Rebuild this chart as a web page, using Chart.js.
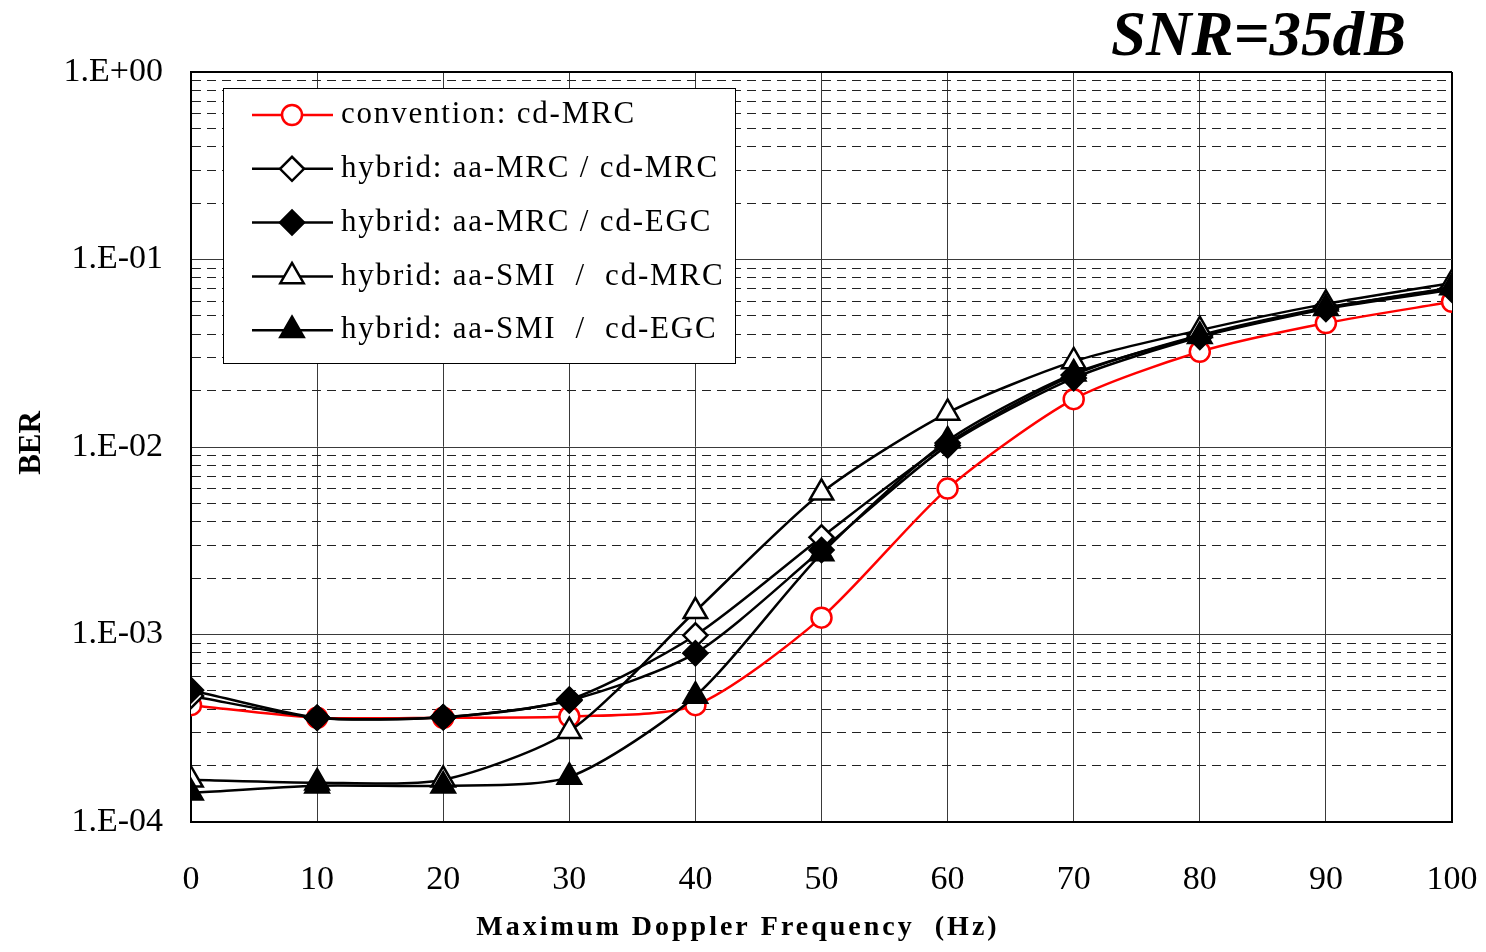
<!DOCTYPE html>
<html>
<head>
<meta charset="utf-8">
<script src="https://cdn.jsdelivr.net/npm/chart.js@4.4.1/dist/chart.umd.min.js"></script>
<style>
  html, body { margin: 0; padding: 0; background: #ffffff; }
  #wrap { width: 1486px; height: 952px; position: relative; }
</style>
</head>
<body>
<div id="wrap"><canvas id="c" width="1486" height="952"></canvas></div>
<script>
// ---------- data ----------
const dopplerHz = [0, 10, 20, 30, 40, 50, 60, 70, 80, 90, 100];
const xTickLabels = ['0', '10', '20', '30', '40', '50', '60', '70', '80', '90', '100'];

const seriesNames = [
  'convention: cd-MRC',
  'hybrid: aa-MRC / cd-MRC',
  'hybrid: aa-MRC / cd-EGC',
  'hybrid: aa-SMI  /  cd-MRC',
  'hybrid: aa-SMI  /  cd-EGC'
];

const berConvCdMRC     = [4.2e-4, 3.6e-4, 3.6e-4, 3.65e-4, 4.2e-4, 1.23e-3, 6.0e-3, 1.8e-2, 3.22e-2, 4.58e-2, 5.95e-2];
const berAaMRC_CdMRC   = [4.7e-4, 3.6e-4, 3.62e-4, 4.5e-4, 9.9e-4, 3.3e-3, 1.05e-2, 2.42e-2, 3.95e-2, 5.55e-2, 7.0e-2];
const berAaMRC_CdEGC   = [5.05e-4, 3.6e-4, 3.62e-4, 4.45e-4, 7.95e-4, 2.82e-3, 1.02e-2, 2.33e-2, 3.86e-2, 5.45e-2, 6.9e-2];
const berAaSMI_CdMRC   = [1.68e-4, 1.62e-4, 1.68e-4, 3.05e-4, 1.33e-3, 5.7e-3, 1.52e-2, 2.86e-2, 4.2e-2, 5.8e-2, 7.5e-2];
const berAaSMI_CdEGC   = [1.43e-4, 1.56e-4, 1.56e-4, 1.74e-4, 4.7e-4, 2.7e-3, 1.08e-2, 2.46e-2, 3.9e-2, 5.5e-2, 7.1e-2];

const yDecades = [1e-4, 1e-3, 1e-2, 1e-1, 1];
const yTickLabels = ['1.E-04', '1.E-03', '1.E-02', '1.E-01', '1.E+00'];

const chartTitle = 'SNR=35dB';
const xAxisTitle = 'Maximum Doppler Frequency  (Hz)';
const yAxisTitle = 'BER';

// ---------- helpers ----------
const SERIF = '"Liberation Serif", "Times New Roman", serif';
const toPoints = (ys) => dopplerHz.map((x, i) => ({ x: x, y: ys[i] }));
const isDecade = (v) => yDecades.some(d => Math.abs(v - d) / d < 1e-6);

const yGridValues = [];
for (let i = 0; i < yDecades.length - 1; i++) {
  for (let m = 1; m <= 9; m++) yGridValues.push(m * yDecades[i]);
}
yGridValues.push(yDecades[yDecades.length - 1]);

const seriesValues = [berConvCdMRC, berAaMRC_CdMRC, berAaMRC_CdEGC, berAaSMI_CdMRC, berAaSMI_CdEGC];
const styles = [
  { color: '#ff0000', style: 'circle',   fill: '#ffffff', r: 10 },
  { color: '#000000', style: 'rectRot',  fill: '#ffffff', r: 12 },
  { color: '#000000', style: 'rectRot',  fill: '#000000', r: 12 },
  { color: '#000000', style: 'triangle', fill: '#ffffff', r: 13.5 },
  { color: '#000000', style: 'triangle', fill: '#000000', r: 13.5 }
];

const datasets = seriesValues.map((vals, i) => ({
  label: seriesNames[i],
  data: toPoints(vals),
  borderColor: styles[i].color,
  backgroundColor: styles[i].fill,
  borderWidth: 2.5,
  pointStyle: styles[i].style,
  pointRadius: styles[i].r,
  pointBorderWidth: 2.5,
  pointBorderColor: styles[i].color,
  pointBackgroundColor: styles[i].fill,
  tension: 0.25,
  fill: false,
  order: seriesValues.length - 1 - i
}));

// ---------- extras plugin (title, axis titles, legend) ----------
const extras = {
  id: 'extras',
  afterDraw(chart) {
    const ctx = chart.ctx;
    const area = chart.chartArea;

    // Title
    ctx.save();
    ctx.fillStyle = '#000';
    ctx.font = 'italic bold 63px ' + SERIF;
    ctx.textAlign = 'right';
    ctx.textBaseline = 'alphabetic';
    ctx.fillText(chartTitle, 1406, 55);
    ctx.restore();

    // X axis title
    ctx.save();
    ctx.fillStyle = '#000';
    ctx.font = 'bold 28px ' + SERIF;
    try { ctx.letterSpacing = '3px'; } catch (e) {}
    ctx.textAlign = 'center';
    ctx.textBaseline = 'alphabetic';
    ctx.fillText(xAxisTitle, 738, 935);
    ctx.restore();

    // Y axis title
    ctx.save();
    ctx.fillStyle = '#000';
    ctx.font = 'bold 31px ' + SERIF;
    ctx.translate(40, 443);
    ctx.rotate(-Math.PI / 2);
    ctx.textAlign = 'center';
    ctx.textBaseline = 'alphabetic';
    ctx.fillText(yAxisTitle, 0, 0);
    ctx.restore();

    // Legend
    const lx = area.left + 32, ly = area.top + 16, lw = 512, lh = 275;
    ctx.save();
    ctx.fillStyle = '#ffffff';
    ctx.fillRect(lx, ly, lw, lh);
    ctx.strokeStyle = '#000';
    ctx.lineWidth = 1;
    ctx.strokeRect(lx + 0.5, ly + 0.5, lw, lh);
    const rowGap = 53.8;
    chart.data.datasets.forEach((ds, i) => {
      const y = ly + 27 + i * rowGap;
      ctx.strokeStyle = ds.borderColor;
      ctx.lineWidth = 2.5;
      ctx.setLineDash([]);
      ctx.beginPath();
      ctx.moveTo(lx + 29, y);
      ctx.lineTo(lx + 110, y);
      ctx.stroke();
      ctx.fillStyle = ds.pointBackgroundColor;
      ctx.strokeStyle = ds.pointBorderColor;
      ctx.lineWidth = ds.pointBorderWidth;
      Chart.helpers.drawPoint(ctx, {
        pointStyle: ds.pointStyle,
        radius: ds.pointRadius,
        rotation: 0,
        borderWidth: ds.pointBorderWidth
      }, lx + 69, y);
      ctx.save();
      ctx.fillStyle = '#000';
      ctx.font = '31px ' + SERIF;
      try { ctx.letterSpacing = '1.8px'; } catch (e) {}
      ctx.textAlign = 'left';
      ctx.textBaseline = 'middle';
      ctx.fillText(ds.label, lx + 118, y);
      ctx.restore();
    });
    ctx.restore();
  }
};

// ---------- chart ----------
new Chart(document.getElementById('c'), {
  type: 'line',
  data: { datasets: datasets },
  plugins: [extras],
  options: {
    responsive: false,
    animation: false,
    devicePixelRatio: 1,
    layout: { padding: { left: 0, top: 72, right: 34, bottom: 0 } },
    plugins: {
      legend: { display: false },
      title: { display: false },
      tooltip: { enabled: false }
    },
    scales: {
      x: {
        type: 'linear',
        min: 0,
        max: 100,
        afterFit: (scale) => { scale.height = 130; scale.paddingLeft = 0; scale.paddingRight = 0; },
        ticks: {
          stepSize: 10,
          autoSkip: false,
          maxRotation: 0,
          padding: 38,
          color: '#000',
          font: { family: SERIF, size: 34 },
          callback: (value, index) => xTickLabels[index]
        },
        grid: {
          drawTicks: false,
          color: (c) => (c.tick && c.tick.value === 100) ? '#000' : '#3a3a3a',
          lineWidth: (c) => (c.tick && c.tick.value === 100) ? 2 : 1
        },
        border: { display: true, color: '#000', width: 2 }
      },
      y: {
        type: 'logarithmic',
        min: 1e-4,
        max: 1,
        afterFit: (scale) => { scale.width = 191; scale.paddingTop = 0; scale.paddingBottom = 0; },
        afterBuildTicks: (scale) => { scale.ticks = yGridValues.map(v => ({ value: v })); },
        ticks: {
          autoSkip: false,
          padding: 28,
          color: '#000',
          font: { family: SERIF, size: 34 },
          callback: (value) => {
            const idx = yDecades.findIndex(d => Math.abs(value - d) / d < 1e-6);
            return idx >= 0 ? yTickLabels[idx] : '';
          }
        },
        grid: {
          drawTicks: false,
          color: (c) => {
            if (!c.tick) return '#000';
            if (c.tick.value === 1) return '#000';
            return isDecade(c.tick.value) ? '#3a3a3a' : '#222';
          },
          lineWidth: (c) => (c.tick && c.tick.value === 1) ? 2 : 1
        },
        border: {
          display: true,
          color: '#000',
          width: 2,
          dash: (c) => (c.tick && !isDecade(c.tick.value)) ? [9, 6] : []
        }
      }
    }
  }
});
</script>
</body>
</html>
